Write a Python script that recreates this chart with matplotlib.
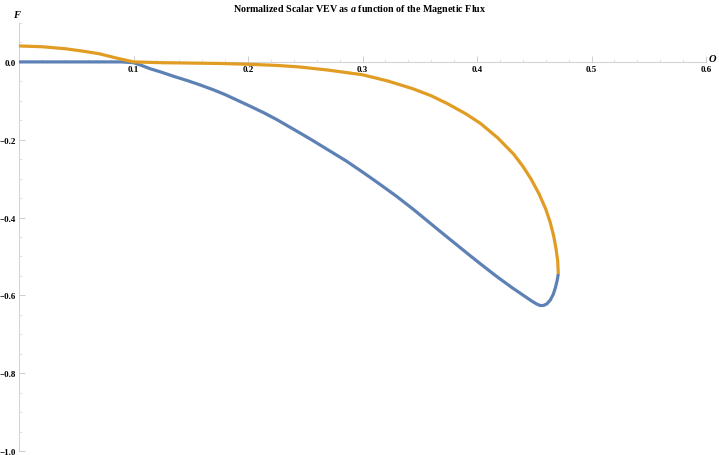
import matplotlib
matplotlib.use("Agg")
import matplotlib.pyplot as plt
from matplotlib.ticker import MultipleLocator

plt.rcParams["font.family"] = ["Liberation Serif", "DejaVu Serif"]
plt.rcParams["mathtext.fontset"] = "custom"
plt.rcParams["mathtext.it"] = "Liberation Serif:italic:bold"
plt.rcParams["axes.unicode_minus"] = True

# values
blue_x = [0.0, 0.03, 0.06, 0.09, 0.100, 0.107, 0.114, 0.125, 0.135, 0.147, 0.158, 0.17, 0.18,
          0.191, 0.202, 0.214, 0.225, 0.235, 0.245, 0.256, 0.266, 0.276, 0.286, 0.30, 0.315,
          0.33, 0.344, 0.356, 0.368, 0.381, 0.394, 0.403, 0.417, 0.431, 0.437, 0.443,
          0.448, 0.452, 0.455, 0.458, 0.461, 0.464, 0.4665, 0.4685, 0.470, 0.471]
blue_y = [0.0, 0.0, 0.0, 0.0, -0.002, -0.009, -0.017, -0.027, -0.037, -0.048, -0.059, -0.072,
          -0.084, -0.099, -0.114, -0.131, -0.148, -0.165, -0.182, -0.201, -0.219, -0.237,
          -0.255, -0.283, -0.314, -0.346, -0.378, -0.407, -0.436, -0.467, -0.498, -0.519,
          -0.551, -0.581, -0.593, -0.605, -0.615, -0.622, -0.626, -0.626, -0.622, -0.612,
          -0.598, -0.580, -0.562, -0.545]

orange_x = [0.0, 0.02, 0.04, 0.055, 0.07, 0.085, 0.1, 0.125, 0.15, 0.175, 0.2, 0.225,
            0.245, 0.27, 0.3, 0.322, 0.344, 0.36, 0.374, 0.39, 0.403, 0.418, 0.432,
            0.44, 0.447, 0.454, 0.460, 0.464, 0.467, 0.469, 0.4705, 0.471]
orange_y = [0.041, 0.039, 0.034, 0.028, 0.021, 0.010, 0.0, -0.002, -0.003, -0.004, -0.006, -0.009,
            -0.013, -0.021, -0.033, -0.049, -0.069, -0.087, -0.107, -0.133, -0.158, -0.195, -0.237,
            -0.268, -0.300, -0.338, -0.378, -0.413, -0.448, -0.480, -0.512, -0.545]

x_ticks = [0.1, 0.2, 0.3, 0.4, 0.5, 0.6]
y_ticks = [0.0, -0.2, -0.4, -0.6, -0.8, -1.0]

fig = plt.figure(figsize=(7.19, 4.56), dpi=100)
ax = fig.add_axes([19 / 719, 4 / 456, 687 / 719, 428 / 456])

ax.plot(blue_x, blue_y, color="#5E81B5", lw=2.3, clip_on=False,
        solid_capstyle="butt", solid_joinstyle="round")
ax.plot(orange_x, orange_y, color="#E19C24", lw=2.3, clip_on=False,
        solid_capstyle="butt", solid_joinstyle="round")

ax.set_xlim(0, 0.6)
ax.set_ylim(-1.0, 0.1)

for s in ["top", "right"]:
    ax.spines[s].set_visible(False)
ax.spines["left"].set_position(("data", 0))
ax.spines["bottom"].set_position(("data", 0))
for s in ["left", "bottom"]:
    ax.spines[s].set_color("#d4d4d4")
    ax.spines[s].set_linewidth(0.8)
    ax.spines[s].set_zorder(0)

ax.set_xticks(x_ticks)
ax.set_xticklabels([f"{v:.1f}" for v in x_ticks])
ax.set_yticks(y_ticks)
ax.set_yticklabels([f"{v:.1f}".replace("-", "\u2212") for v in y_ticks])
ax.xaxis.set_minor_locator(MultipleLocator(0.02))
ax.yaxis.set_minor_locator(MultipleLocator(0.05))
ax.tick_params(which="major", direction="in", length=4, width=0.6, color="#c8c8c8",
               labelsize=6.5, pad=2)
ax.tick_params(which="minor", direction="in", length=2.5, width=0.5, color="#d8d8d8")
for lab in ax.get_xticklabels() + ax.get_yticklabels():
    lab.set_fontweight("bold")

ax.text(-0.002, 0.123, "F", style="italic", fontweight="bold", fontsize=7.5,
        ha="center", va="center", clip_on=False)
ax.text(0.606, 0.008, "O", style="italic", fontweight="bold", fontsize=7.5,
        ha="center", va="center", clip_on=False)

fig.text(0.5, 1 - 9 / 456, "Normalized Scalar VEV as $a$ function of the Magnetic Flux",
         ha="center", va="center", fontsize=7.2, fontweight="bold")

fig.savefig("out.png", dpi=100)
